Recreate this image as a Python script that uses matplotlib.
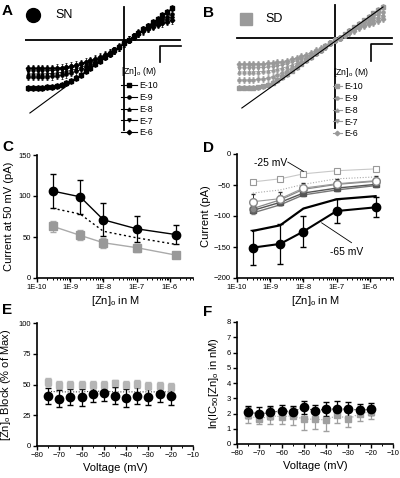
import numpy as np
import matplotlib
matplotlib.use("Agg")
import matplotlib.pyplot as plt
from matplotlib.lines import Line2D
from matplotlib.ticker import FixedLocator, LogLocator, NullFormatter, MultipleLocator

plt.rcParams['font.family'] = ['Liberation Sans', 'DejaVu Sans']
plt.rcParams['mathtext.fontset'] = 'custom'
plt.rcParams['mathtext.rm'] = 'Liberation Sans'
plt.rcParams['mathtext.it'] = 'Liberation Sans:italic'
plt.rcParams['mathtext.default'] = 'regular'

# ---------------- data ----------------
# I-V curves (panels A, B): voltage steps in mV, currents in arbitrary pA units
iv_voltage = [-100, -95, -90, -85, -80, -75, -70, -65, -60, -55, -50, -45, -40, -35, -30, -25,
              -20, -15, -10, -5, 0, 5, 10, 15, 20, 25, 30, 35, 40, 45, 50]
conc_labels = ['E-10', 'E-9', 'E-8', 'E-7', 'E-6']

sn_e10 = [-48, -48, -48, -48, -47.5, -47, -46, -45, -43.5, -41, -38, -35, -31.5, -28, -24.5, -21,
          -17.5, -14, -10.5, -7, -3.5, 0, 3.5, 7, 10.5, 14, 17.5, 21, 24.5, 28, 31.5]
sn_e9 = [-37, -37, -37, -37, -36.8, -36.5, -36, -35.3, -34.3, -33, -31.5, -29.5, -27.5, -25, -22.5, -20,
         -17, -14, -11, -7.5, -3.5, 0, 3.5, 7, 10, 13, 15.5, 18, 20.5, 23, 25.5]
sn_e8 = [-34, -34, -34, -34, -33.8, -33.5, -33, -32.4, -31.5, -30.3, -29, -27.3, -25.5, -23.3, -21, -18.7,
         -16, -13.5, -10.7, -7.3, -3.4, 0, 3.3, 6.6, 9.5, 12.3, 14.8, 17, 19.2, 21.4, 23.5]
sn_e7 = [-31, -31, -31, -31, -30.8, -30.6, -30.2, -29.6, -28.8, -27.8, -26.7, -25.2, -23.6, -21.8, -19.8, -17.7,
         -15.4, -13, -10.4, -7.1, -3.3, 0, 3.2, 6.3, 9, 11.6, 14, 16, 18, 20, 21.8]
sn_e6 = [-28.5, -28.5, -28.5, -28.5, -28.5, -28.3, -28, -27.6, -27, -26, -25, -23.5, -22, -20.5, -19, -17,
         -15, -13, -10.5, -7, -3, 0, 3, 6, 8.5, 11, 13, 15, 16.5, 18, 19.5]
sn_err = [3.0, 3.5, 3.5, 3.5, 3.5]
sn_leak_v = [-98, 51]
sn_leak_i = [-73, 32]

sd_e10 = [-50, -50, -50, -49.8, -49.3, -48.5, -47, -45, -42.5, -39.5, -36.3, -33, -29.5, -26, -22.5, -19,
          -15.5, -12, -8.5, -5, -2.5, 0, 3.5, 7, 10.5, 14, 17.5, 21, 24.5, 28, 31]
sd_e9 = [-42, -42, -42, -41.8, -41.5, -41, -40, -38.7, -37, -35, -32.8, -30.3, -27.6, -24.8, -21.8, -18.7,
         -15.5, -12.2, -8.8, -5.3, -2.2, 0, 3.2, 6.5, 9.6, 12.6, 15.5, 18.3, 21, 23.6, 26]
sd_e8 = [-34, -34, -34, -33.9, -33.7, -33.4, -33, -32.3, -31.4, -30.2, -28.8, -27.1, -25.2, -23, -20.6, -18,
         -15.2, -12.2, -9, -5.5, -2.3, 0, 3, 6, 8.8, 11.5, 14, 16.5, 18.8, 21, 23]
sd_e7 = [-30, -30, -30, -30, -29.8, -29.6, -29.2, -28.7, -28, -27, -25.8, -24.4, -22.8, -21, -19, -16.8,
         -14.4, -11.8, -8.8, -5.5, -2.3, 0, 2.8, 5.6, 8.2, 10.6, 12.8, 15, 17, 19, 20.8]
sd_e6 = [-26, -26, -26, -26, -25.9, -25.7, -25.4, -25, -24.4, -23.6, -22.6, -21.4, -20, -18.4, -16.6, -14.6,
         -12.5, -10.2, -7.8, -5, -2.2, 0, 2.5, 5, 7.3, 9.5, 11.5, 13.5, 15.3, 17, 18.5]
sd_err = [2.5, 3.0, 3.0, 3.0, 3.0]
sd_leak_v = [-97, 50]
sd_leak_i = [-70, 31]

# Panel C/D: Zn concentrations (M)
zn_conc = [3e-10, 2e-9, 1e-8, 1e-7, 1.5e-6]
zn_ticks = [1e-10, 1e-9, 1e-8, 1e-7, 1e-6]
zn_ticklabels = ['1E-10', '1E-9', '1E-8', '1E-7', '1E-6']

c_sn = [106, 99, 71, 60, 53]
c_sn_err = [21, 21, 20, 16, 12]
c_mid = [85, 78, 57, 49, 41]
c_sd = [63, 52, 43, 37, 28]
c_sd_err = [7, 6, 6, 5, 3]

d_m25_open_sq = [-45, -40, -32, -27, -24]
d_dotted = [-63, -58, -49, -40, -37]
d_open_circ = [-77, -72, -55, -48, -43]
d_open_circ_err = [13, 10, 9, 8, 7]
d_gray_circ = [-88, -74, -57, -49, -44]
d_gray_circ_err = [8, 8, 7, 6, 5]
d_dark_sq = [-91, -78, -63, -55, -49]
d_dark_line = [-95, -82, -66, -58, -51]
d_m65_line = [-124, -115, -88, -73, -68]
d_m65_circ = [-151, -145, -125, -92, -86]
d_m65_circ_err = [28, 32, 25, 20, 16]

# Panel E/F: voltage dependence
ef_voltage = [-75, -70, -65, -60, -55, -50, -45, -40, -35, -30, -25, -20]
e_sn = [40.5, 38.5, 40, 39.5, 42, 43, 41, 39, 41, 40, 42, 40.5]
e_sn_err = [6.5, 7, 6.5, 7, 6, 6.5, 7, 7.5, 7, 6.5, 6, 7]
e_sd = [52, 49.5, 50, 50, 49.5, 49.5, 51, 50, 50.5, 49, 49, 48]
e_sd_err = [3, 3.5, 3, 3, 3, 3, 3, 3, 3, 3, 3, 3]
e_dotted = [44.5, 44, 44, 44, 44.5, 44.5, 44, 44, 44, 44, 44, 44]

f_sn = [2.11, 1.96, 2.07, 2.18, 2.11, 2.40, 2.18, 2.29, 2.29, 2.29, 2.22, 2.27]
f_sn_err = [0.4, 0.45, 0.4, 0.4, 0.4, 0.4, 0.4, 0.45, 0.5, 0.45, 0.4, 0.4]
f_sd = [1.9, 1.63, 1.85, 1.79, 1.85, 1.63, 1.63, 1.57, 1.9, 1.63, 2.0, 2.1]
f_sd_err = [0.55, 0.3, 0.55, 0.5, 0.6, 0.7, 0.65, 0.7, 0.55, 0.5, 0.5, 0.45]

# ---------------- figure ----------------
W, H = 400, 478
fig = plt.figure(figsize=(4, 4.78), dpi=100)


def px_axes(x0, y0, x1, y1):
    return fig.add_axes([x0 / W, 1 - y1 / H, (x1 - x0) / W, (y1 - y0) / H])


TICK_FS = 5.5
LAB_FS = 8

markers = ['s', 'o', '^', 'v', 'D']


def iv_panel(ax, xlim, ylim, series, errs, leak_v, leak_i, color, hline, vline, bar, handlelen,
             leg_anchor, sym, sym_pos, label, label_pos):
    ax.set_xlim(*xlim)
    ax.set_ylim(*ylim)
    ax.axis('off')
    ax.axhline(0, xmin=hline[0], xmax=hline[1], color='black', lw=1.3)
    ax.axvline(0, ymin=vline[0], ymax=vline[1], color='black', lw=1.3)
    ax.plot(bar[0], bar[1], color='black', lw=1.2)
    ax.plot(leak_v, leak_i, color='black', lw=0.8, zorder=5)
    handles = []
    for s, e, m, lab in zip(series, errs, markers, conc_labels):
        ax.errorbar(iv_voltage, s, yerr=e, color=color, marker=m, ms=2.3, lw=0.6,
                    elinewidth=0.5, capsize=1.0, capthick=0.5)
        handles.append(Line2D([], [], color=color, marker=m, ms=2.3, lw=0.8, label=lab))
    leg = ax.legend(handles=handles, loc='upper left', bbox_to_anchor=leg_anchor,
                    bbox_transform=fig.transFigure, frameon=False, fontsize=6.3,
                    title='[Zn]$_o$ (M)', title_fontsize=6.3, handlelength=handlelen,
                    handletextpad=0.3, labelspacing=0.33, borderpad=0, borderaxespad=0,
                    alignment='left')
    ax.plot([sym_pos[0]], [sym_pos[1]], marker=sym[0], ms=sym[1], color=sym[2],
            transform=ax.transAxes, clip_on=False)
    ax.text(label_pos[0], label_pos[1], label, transform=ax.transAxes, fontsize=9,
            ha='left', va='center')


# Panel A
axA = px_axes(25, 5, 183, 132)
iv_panel(axA, (-103.1, 61.5), (-92, 35), [sn_e10, sn_e9, sn_e8, sn_e7, sn_e6], sn_err,
         sn_leak_v, sn_leak_i, 'black', (0, 155 / 158), (2 / 127, 125 / 127),
         ([37.5, 37.5, 59.4], [-22, -6, -6]), 1.8, (121 / W, 1 - 65 / H),
         ('o', 10, 'black'), (0.05, 0.921), 'SN', (0.19, 0.921))

# Panel B
axB = px_axes(236, 3, 395, 130)
iv_panel(axB, (-103.1, 62.5), (-92, 35), [sd_e10, sd_e9, sd_e8, sd_e7, sd_e6], sd_err,
         sd_leak_v, sd_leak_i, '#999999', (1 / 159, 156 / 159), (2 / 127, 125 / 127),
         ([37.5, 37.5, 59.4], [-23, -6, -6]), 1.0, (333 / W, 1 - 66 / H),
         ('s', 9, '#9a9a9a'), (0.063, 0.874), 'SD', (0.182, 0.874))


def style_axes(ax):
    for sp in ['top', 'right']:
        ax.spines[sp].set_visible(False)
    for sp in ['left', 'bottom']:
        ax.spines[sp].set_linewidth(1.2)
    ax.tick_params(which='major', direction='out', length=3, width=1, labelsize=TICK_FS, pad=1.5)
    ax.tick_params(which='minor', direction='out', length=1.6, width=0.7)


def log_x(ax):
    ax.set_xscale('log')
    ax.set_xlim(1e-10, 10 ** -5.3)
    ax.xaxis.set_major_locator(FixedLocator(zn_ticks))
    ax.set_xticklabels(zn_ticklabels)
    ax.xaxis.set_minor_locator(LogLocator(base=10, subs=np.arange(2, 10)))
    ax.xaxis.set_minor_formatter(NullFormatter())


# Panel C
axC = px_axes(37, 155, 193, 278)
style_axes(axC)
log_x(axC)
axC.set_ylim(0, 150)
axC.set_yticks([0, 50, 100, 150])
axC.errorbar(zn_conc, c_sd, yerr=c_sd_err, color='#aaaaaa', marker='s', ms=5.5, lw=1.0,
             elinewidth=0.9, capsize=2.5, mfc='#999999', mec='#999999', ecolor='#aaaaaa')
axC.plot(zn_conc, c_mid, color='black', lw=1.0, ls=(0, (1.5, 2)))
axC.errorbar(zn_conc, c_sn, yerr=c_sn_err, color='black', marker='o', ms=6, lw=1.0,
             elinewidth=0.9, capsize=2.5)
axC.set_ylabel('Current at 50 mV (pA)', fontsize=LAB_FS, labelpad=3)
axC.set_xlabel('[Zn]$_o$ in M', fontsize=LAB_FS, labelpad=2)

# Panel D
axD = px_axes(237, 154, 393, 278)
style_axes(axD)
log_x(axD)
axD.set_ylim(-200, 0)
axD.set_yticks([-200, -150, -100, -50, 0])
axD.plot(zn_conc, d_m25_open_sq, color='#c8c8c8', lw=0.8, marker='s', ms=5, mfc='white',
         mec='#999999', mew=0.8)
axD.plot(zn_conc, d_dotted, color='#aaaaaa', lw=0.8, ls=(0, (1, 1.5)))
axD.plot(zn_conc, d_dark_line, color='#777777', lw=1.0)
axD.errorbar(zn_conc, d_dark_sq, color='#555555', marker='s', ms=4, lw=1.0, yerr=[4, 4, 4, 4, 4],
             elinewidth=0.7, capsize=1.5)
axD.errorbar(zn_conc, d_gray_circ, yerr=d_gray_circ_err, color='#888888', marker='o', ms=5,
             lw=0.9, elinewidth=0.7, capsize=1.5, mec='#666666')
axD.errorbar(zn_conc, d_open_circ, yerr=d_open_circ_err, color='#999999', marker='o', ms=5.5,
             mfc='white', mec='#888888', lw=0.8, elinewidth=0.7, ecolor='#333333', capsize=1.5)
axD.plot(zn_conc, d_m65_line, color='black', lw=1.6)
axD.errorbar(zn_conc, d_m65_circ, yerr=d_m65_circ_err, color='black', marker='o', ms=6,
             lw=1.5, elinewidth=0.9, capsize=2.5)
axD.set_ylabel('Current (pA)', fontsize=LAB_FS, labelpad=2)
axD.set_xlabel('[Zn]$_o$ in M', fontsize=LAB_FS, labelpad=2)
axD.text(10 ** -9.0, -14, '-25 mV', fontsize=7.4, ha='center', va='center')
axD.plot([10 ** -8.47, 10 ** -8.0], [-13, -28], color='black', lw=0.6)
axD.text(10 ** -6.7, -158, '-65 mV', fontsize=7.4, ha='center', va='center')
axD.plot([10 ** -6.55, 10 ** -7.45], [-143, -111], color='black', lw=0.6)


def volt_x(ax):
    ax.set_xlim(-80, -10)
    ax.xaxis.set_major_locator(MultipleLocator(10))
    ax.xaxis.set_minor_locator(MultipleLocator(5))


# Panel E
axE = px_axes(37, 323, 193, 446)
style_axes(axE)
volt_x(axE)
axE.set_ylim(0, 100)
axE.set_yticks([0, 25, 50, 75, 100])
axE.errorbar(ef_voltage, e_sd, yerr=e_sd_err, ls='none', marker='s', ms=5, color='#b5b5b5',
             elinewidth=0.9, capsize=2.5)
axE.plot(ef_voltage, e_dotted, color='#444444', lw=0.8, ls=(0, (1, 1.5)))
axE.errorbar(ef_voltage, e_sn, yerr=e_sn_err, ls='none', marker='o', ms=6, color='black',
             elinewidth=0.9, capsize=2.5)
axE.set_ylabel('[Zn]$_o$ Block (% of Max)', fontsize=LAB_FS, labelpad=4)
axE.set_xlabel('Voltage (mV)', fontsize=LAB_FS, labelpad=3)

# Panel F
axF = px_axes(237, 322, 393, 444)
style_axes(axF)
volt_x(axF)
axF.set_ylim(0, 8)
axF.yaxis.set_major_locator(MultipleLocator(1))
axF.errorbar(ef_voltage, f_sd, yerr=f_sd_err, ls=(0, (1, 1.5)), lw=0.8, marker='s', ms=5,
             color='#a0a0a0', elinewidth=0.9, capsize=2.5)
axF.errorbar(ef_voltage, f_sn, yerr=f_sn_err, ls=(0, (1, 1.5)), lw=0.8, marker='o', ms=6,
             color='black', elinewidth=0.9, capsize=2.5)
axF.set_ylabel('ln(IC$_{50}$[Zn]$_o$ in nM)', fontsize=LAB_FS, labelpad=4)
axF.set_xlabel('Voltage (mV)', fontsize=LAB_FS, labelpad=3)

# Panel letters
for letter, (x, y) in {'A': (2, 11), 'B': (203, 13), 'C': (2, 147), 'D': (203, 148),
                       'E': (2, 310), 'F': (203, 312)}.items():
    fig.text(x / W, 1 - y / H, letter, fontsize=11, fontweight='bold', ha='left', va='center')

fig.savefig('out.png', dpi=100)
